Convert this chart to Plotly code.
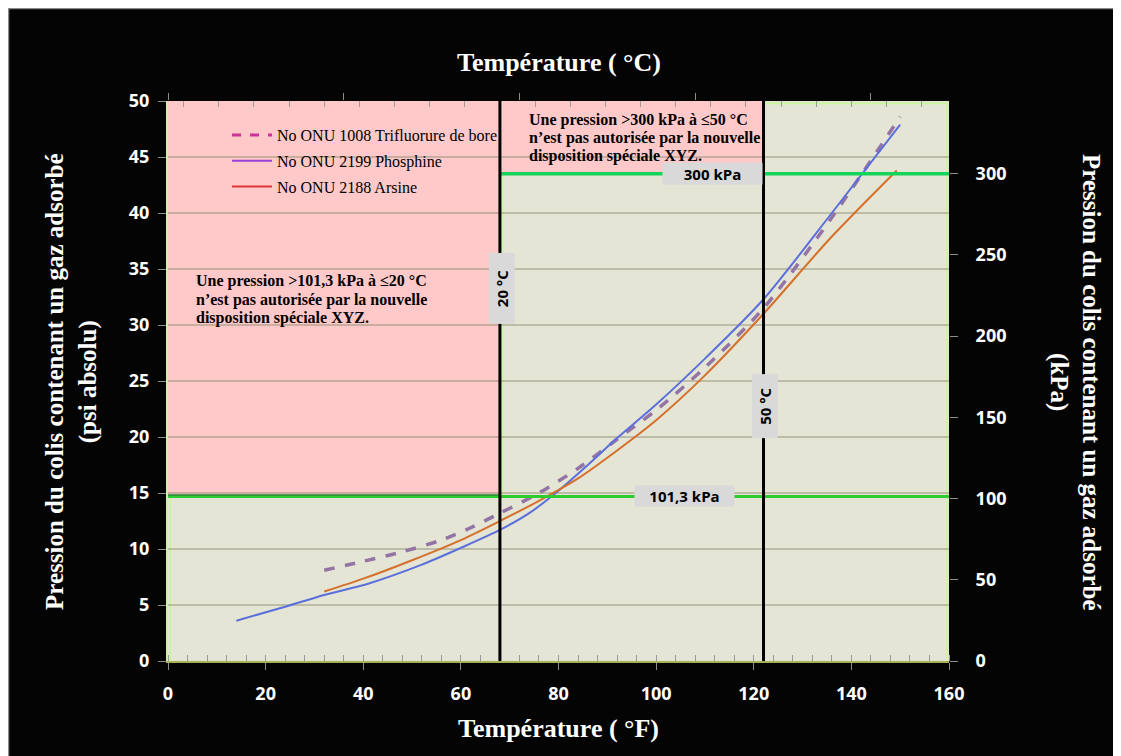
import plotly.graph_objects as go

# ---------------- data ----------------
phos_F = [14, 24, 32, 41, 52, 60, 68, 74, 80, 86, 92, 100, 110, 122, 136, 150]
phos_psi = [3.6, 4.85, 5.9, 6.9, 8.6, 10.1, 11.7, 13.2, 15.2, 17.5, 19.9, 22.9, 27.0, 32.3, 40.0, 47.9]

bf3_F = [32, 40, 48, 56, 62, 68, 76, 84, 92, 100, 110, 122, 136, 150]
bf3_psi = [8.1, 8.9, 9.75, 10.8, 11.9, 13.2, 15.0, 17.2, 19.8, 22.4, 26.2, 31.5, 39.6, 48.6]

ars_F = [32, 40, 50, 60, 68, 76, 84, 92, 100, 110, 122, 136, 149.3]
ars_psi = [6.2, 7.35, 9.0, 10.8, 12.5, 14.3, 16.3, 18.8, 21.5, 25.5, 31.0, 37.9, 43.8]

series_names = ["No ONU 1008 Trifluorure de bore", "No ONU 2199 Phosphine", "No ONU 2188 Arsine"]

note_low_lines = ["Une pression >101,3 kPa à ≤20 °C", "n’est pas autorisée par la nouvelle", "disposition spéciale XYZ."]
note_high_lines = ["Une pression >300 kPa à ≤50 °C", "n’est pas autorisée par la nouvelle", "disposition spéciale XYZ."]

limit_low_kpa = 101.3
limit_high_kpa = 300
temp20_F = 68
temp50_F = 122

x_range_F = [0, 160]
y_range_psi = [0, 50]
KPA_PER_PSI = 6.894757

# plot-area geometry helpers (pixels relative to the page screenshot)
PX0, PX1, PY0, PY1 = 168, 949, 101, 661
def px(xp):
    return (xp - PX0) / (PX1 - PX0)
def py(yp):
    return (PY1 - yp) / (PY1 - PY0)

# ---------------- figure ----------------
fig = go.Figure()

curve_colors = ["#9474a4", "#5b6fdc", "#d5702c"]
legend_colors = ["#cc3399", "#9a40dd", "#dd3535"]

fig.add_trace(go.Scatter(x=bf3_F, y=bf3_psi, mode="lines", line=dict(color=curve_colors[0], width=3.5, dash="dash", shape="spline", smoothing=0.8), showlegend=False, hoverinfo="skip"))
fig.add_trace(go.Scatter(x=phos_F, y=phos_psi, mode="lines", line=dict(color=curve_colors[1], width=2, shape="spline", smoothing=0.8), showlegend=False, hoverinfo="skip"))
fig.add_trace(go.Scatter(x=ars_F, y=ars_psi, mode="lines", line=dict(color=curve_colors[2], width=2, shape="spline", smoothing=0.8), showlegend=False, hoverinfo="skip"))

dashes = ["dash", "solid", "solid"]
for i, nm in enumerate(series_names):
    fig.add_trace(go.Scatter(x=[None], y=[None], mode="lines", name=nm, legendgroup=str(i),
                             line=dict(color=legend_colors[i], width=3 if i == 0 else 2, dash=dashes[i])))

# dummy traces for secondary axes
fig.add_trace(go.Scatter(x=[(v - 32) / 1.8 for v in x_range_F], y=[None, None], xaxis="x2", yaxis="y", showlegend=False, hoverinfo="skip"))
fig.add_trace(go.Scatter(x=[None, None], y=[v * KPA_PER_PSI for v in y_range_psi], xaxis="x", yaxis="y2", showlegend=False, hoverinfo="skip"))

low_psi = limit_low_kpa / KPA_PER_PSI
high_psi = limit_high_kpa / KPA_PER_PSI

shapes = []
pink = "#ffc9c9"
shapes.append(dict(type="rect", xref="x", yref="y", x0=x_range_F[0], x1=temp20_F, y0=low_psi, y1=y_range_psi[1],
                   fillcolor=pink, line=dict(width=0), layer="below"))
shapes.append(dict(type="rect", xref="x", yref="y", x0=temp20_F, x1=temp50_F, y0=high_psi, y1=y_range_psi[1],
                   fillcolor=pink, line=dict(width=0), layer="below"))
shapes.append(dict(type="path", xref="x", yref="y",
                   path=f"M 0.4,0 L 0.4,{low_psi} M {temp20_F+0.5},{low_psi} L {temp20_F+0.5},{high_psi} L {temp50_F},{high_psi} M 159.6,0 L 159.6,49.8 L {temp50_F},49.8",
                   line=dict(color="#ccf5a0", width=2), layer="below"))
# legend box (drawn separately, like the reference where text overflows the box)
shapes.append(dict(type="rect", xref="paper", yref="paper", x0=px(230), x1=px(432), y0=py(203), y1=py(125),
                   fillcolor="rgba(255,210,210,0.6)", line=dict(color="#b09a9a", width=1), layer="below"))
# limit lines
shapes.append(dict(type="line", xref="x", yref="y", x0=x_range_F[0], x1=x_range_F[1], y0=low_psi, y1=low_psi,
                   line=dict(color="#2fcc2f", width=3), layer="above"))
shapes.append(dict(type="line", xref="x", yref="y", x0=x_range_F[0], x1=temp20_F, y0=low_psi + 0.12, y1=low_psi + 0.12,
                   line=dict(color="#2a8a3a", width=1.5), layer="above"))
shapes.append(dict(type="line", xref="x", yref="y", x0=temp20_F, x1=x_range_F[1], y0=high_psi, y1=high_psi,
                   line=dict(color="#14d45a", width=3.5), layer="above"))
# temperature lines
shapes.append(dict(type="line", xref="x", yref="y", x0=temp20_F, x1=temp20_F, y0=y_range_psi[0], y1=y_range_psi[1],
                   line=dict(color="#000000", width=3), layer="above"))
shapes.append(dict(type="line", xref="x", yref="y", x0=temp50_F, x1=temp50_F, y0=y_range_psi[0], y1=y_range_psi[1],
                   line=dict(color="#000000", width=3), layer="above"))
# grey edge of the picture (top and left)
shapes.append(dict(type="line", xref="paper", yref="paper", x0=px(8), x1=px(1200), y0=py(8.5), y1=py(8.5),
                   line=dict(color="#8a8a8a", width=1.5)))
shapes.append(dict(type="line", xref="paper", yref="paper", x0=px(8.5), x1=px(8.5), y0=py(800), y1=py(8),
                   line=dict(color="#8a8a8a", width=1.5)))

serif = "Liberation Serif"
sans = "Open Sans"

annotations = []
note_font = dict(family=serif, size=16, color="black", weight="bold")
for line_txt, yc in zip(note_low_lines, [281, 299.5, 318]):
    annotations.append(dict(xref="paper", yref="paper", x=px(194), y=py(yc), xanchor="left", yanchor="middle",
                            showarrow=False, text=line_txt, font=note_font))
for line_txt, yc in zip(note_high_lines, [120, 138, 155.5]):
    annotations.append(dict(xref="paper", yref="paper", x=px(527), y=py(yc), xanchor="left", yanchor="middle",
                            showarrow=False, text=line_txt, font=note_font))

box_bg = "#d9d9d9"
box_font = dict(family=sans, size=15, color="black", weight="bold")
annotations.append(dict(xref="x", yref="y", x=111.5, y=high_psi, showarrow=False, text="300 kPa",
                        bgcolor=box_bg, borderpad=1, width=97, height=19, font=box_font))
annotations.append(dict(xref="x", yref="y", x=105.9, y=low_psi, showarrow=False, text="101,3 kPa",
                        bgcolor=box_bg, borderpad=1, width=97, height=18, font=box_font))
annotations.append(dict(xref="x", yref="y", x=temp20_F + 0.3, y=33.3, showarrow=False, text="20 °C", textangle=-90,
                        bgcolor=box_bg, borderpad=1, width=68, height=23, font=box_font))
annotations.append(dict(xref="x", yref="y", x=temp50_F + 0.3, y=22.8, showarrow=False, text="50 °C", textangle=-90,
                        bgcolor=box_bg, borderpad=1, width=61, height=23, font=box_font))
xtitle_font = dict(family=serif, size=26, color="white", weight="bold")
ytitle_font = dict(family=serif, size=25, color="white", weight="bold")
annotations.append(dict(xref="paper", yref="paper", x=0.5, y=py(62), xanchor="center", yanchor="middle", showarrow=False,
                        text="Température ( °C)", font=xtitle_font))
annotations.append(dict(xref="paper", yref="paper", x=0.5, y=py(728), xanchor="center", yanchor="middle", showarrow=False,
                        text="Température ( °F)", font=xtitle_font))
annotations.append(dict(xref="paper", yref="paper", x=px(71), y=py(382), xanchor="center", yanchor="middle", showarrow=False, textangle=-90,
                        text="Pression du colis contenant un gaz adsorbé<br>(psi absolu)", font=ytitle_font))
annotations.append(dict(xref="paper", yref="paper", x=px(1075), y=py(382), xanchor="center", yanchor="middle", showarrow=False, textangle=90,
                        text="Pression du colis contenant un gaz adsorbé<br>(kPa)", font=ytitle_font))

tick_font = dict(family=sans, size=18, color="white", weight="bold")

W, H = 1113, 748
ML, MT = PX0 - 8, PY0 - 8
fig.update_layout(
    width=W, height=H,
    margin=dict(l=ML, r=W - ML - (PX1 - PX0), t=MT, b=H - MT - (PY1 - PY0), autoexpand=False, pad=0),
    paper_bgcolor="#040404",
    plot_bgcolor="#e5e5d5",
    showlegend=True,
    legend=dict(x=px(227), y=py(118), xanchor="left", yanchor="top",
                bgcolor="rgba(0,0,0,0)", borderwidth=0,
                font=dict(family=serif, size=16, color="black"), tracegroupgap=2,
                itemwidth=40),
    xaxis=dict(range=x_range_F, dtick=20, tick0=0, showgrid=False, zeroline=False,
               ticks="outside", ticklen=7, tickcolor="#8c8c8c", tickfont=tick_font, ticklabelstandoff=8,
               showline=True, linecolor="#a9b25a", linewidth=2, mirror=False,
               minor=dict(dtick=4, ticks="inside", ticklen=6, tickcolor="#9a9a9a", showgrid=False)),
    xaxis2=dict(overlaying="x", side="top", range=[(v - 32) / 1.8 for v in x_range_F], tick0=(0 - 32) / 1.8, dtick=20,
                showticklabels=False, showgrid=False, zeroline=False, ticks="outside", ticklen=7, tickcolor="#8c8c8c",
                showline=False,
                minor=dict(dtick=4, ticks="inside", ticklen=6, tickcolor="#9a9a9a", showgrid=False)),
    yaxis=dict(range=y_range_psi, dtick=5, showgrid=True, gridcolor="rgba(140,140,110,0.45)", gridwidth=1.5, zeroline=False,
               ticks="outside", ticklen=8, tickcolor="#8c8c8c", tickfont=tick_font, ticklabelstandoff=5,
               showline=True, linecolor="#cdf0a8", linewidth=2),
    yaxis2=dict(overlaying="y", side="right", range=[v * KPA_PER_PSI for v in y_range_psi], dtick=50,
                showgrid=False, zeroline=False, ticks="outside", ticklen=8, tickcolor="#8c8c8c", tickfont=tick_font,
                ticklabelstandoff=14, showline=False),
    shapes=shapes,
    annotations=annotations,
)

fig.write_html("out.html", config={"displayModeBar": False})
